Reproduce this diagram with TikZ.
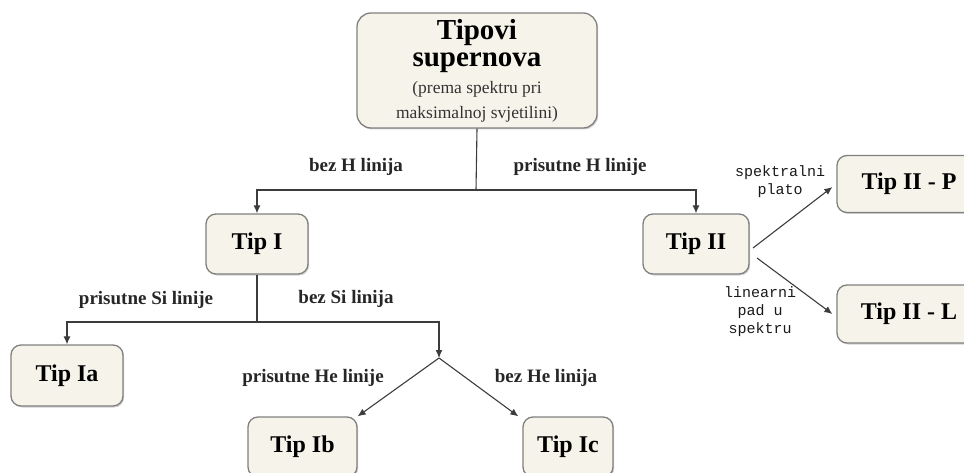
\documentclass[tikz,border=0pt]{standalone}
\usepackage{fontspec}
\setmainfont{Liberation Serif}
\setmonofont{Liberation Mono}
\usetikzlibrary{arrows.meta,shadows}
\definecolor{boxfill}{RGB}{246,244,234}
\definecolor{boxdraw}{RGB}{128,128,128}
\definecolor{linecol}{RGB}{60,60,60}
\tikzset{
  box/.style={draw=boxdraw, line width=1.3pt, fill=boxfill, rounded corners=10pt,
    drop shadow={shadow xshift=1.2pt, shadow yshift=-1.5pt, opacity=0.35},
    font=\fontsize{24}{28}\selectfont\bfseries, inner sep=0pt},
  conn/.style={draw=linecol, line width=1.1pt},
  arr/.style={conn, -{Latex[length=8pt,width=7pt]}},
  lab/.style={font=\fontsize{19}{22}\selectfont\bfseries, text=black!85, inner sep=0pt},
  mono/.style={font=\fontsize{15}{18}\selectfont\ttfamily, text=black!90, align=center, inner sep=0pt},
}
\begin{document}
\begin{tikzpicture}[x=1pt,y=-1pt]
\useasboundingbox (0,0) rectangle (964,473);
% boxes
\node[box, rounded corners=14pt, minimum width=240pt, minimum height=115pt] (top) at (477,70.5) {};
\node[font=\fontsize{29}{32}\selectfont\bfseries, inner sep=0pt] (t1) at (477,33) {Tipovi};
\node[font=\fontsize{29}{32}\selectfont\bfseries, inner sep=0pt] (t2) at (477,63) {supernova};
\node[font=\fontsize{17.5}{20}\selectfont, text=black!80, inner sep=0pt] (t3) at (477,89) {(prema spektru pri};
\node[font=\fontsize{17.5}{20}\selectfont, text=black!80, inner sep=0pt] (t4) at (477,114) {maksimalnoj svjetilini)};
\node[box, minimum width=102pt, minimum height=60pt] (tipI) at (257,244) {Tip I};
\node[box, minimum width=106pt, minimum height=60pt] (tipII) at (696,244) {Tip II};
\node[box, minimum width=112pt, minimum height=61pt] (tipIa) at (67,375.5) {Tip Ia};
\node[box, minimum width=109pt, minimum height=60pt] (tipIb) at (302.5,447) {Tip Ib};
\node[box, minimum width=90pt, minimum height=60pt] (tipIc) at (568,447) {Tip Ic};
\node[box, minimum width=144pt, minimum height=57pt] (tipIIP) at (909,184) {Tip II - P};
\node[box, minimum width=144pt, minimum height=58pt] (tipIIL) at (909,314) {Tip II - L};
% junction coordinates
\coordinate (j1) at (476,190);
\coordinate (j2) at (257,322);
\coordinate (split) at (439,358);
\coordinate (s1) at (753,248);
\coordinate (s2) at (757,258);
% connectors
\draw[conn] (top.south) -- (j1);
\draw[arr] (j1) -| (tipI.north);
\draw[arr] (j1) -| (tipII.north);
\draw[conn] (tipI.south) -- (j2);
\draw[arr] (j2) -| (tipIa.north);
\draw[arr] (j2) -| (split);
\draw[arr] (split) -- (tipIb.north east);
\draw[arr] (split) -- ([xshift=-4pt]tipIc.north west);
\draw[arr] (s1) -- ([xshift=-4pt,yshift=-3pt]tipIIP.west);
\draw[arr] (s2) -- ([xshift=-4pt]tipIIL.west);
% labels
\node[lab] (l1) at (356,167) {bez H linija};
\node[lab] (l2) at (580,167) {prisutne H linije};
\node[lab] (l3) at (146,300) {prisutne Si linije};
\node[lab] (l4) at (346,299) {bez Si linija};
\node[lab] (l5) at (313,378) {prisutne He linije};
\node[lab] (l6) at (546,378) {bez He linija};
\node[mono] (l7) at (780,182) {spektralni\\plato};
\node[mono] (l8) at (760,312) {linearni\\pad u\\spektru};
\end{tikzpicture}
\end{document}
